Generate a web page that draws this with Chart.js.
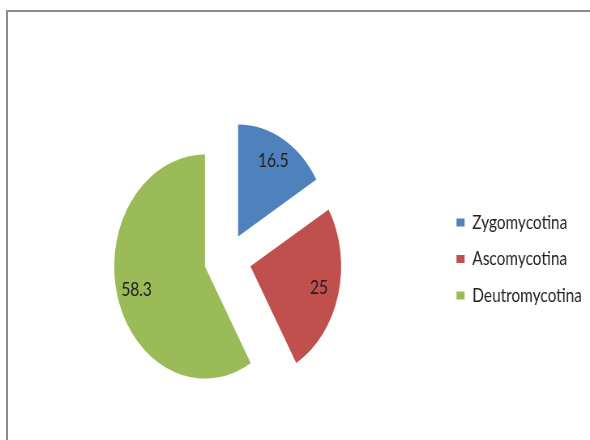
<!DOCTYPE html>
<html>
<head>
<meta charset="utf-8">
<script src="https://cdn.jsdelivr.net/npm/chart.js@4.4.1/dist/chart.umd.min.js"></script>
<style>
  html, body { margin: 0; padding: 0; background: #fff; }
  #wrap { position: relative; width: 590px; height: 440px; overflow: hidden; }
  #frame { position: absolute; left: 6px; top: 10px; width: 600px; height: 460px;
           border-left: 2px solid #8c8c8c; border-top: 2px solid #8c8c8c; }
  #chart { position: absolute; left: 0; top: 0; }
</style>
</head>
<body>
<div id="wrap">
  <div id="frame"></div>
  <!-- drawn wider than shown, the source picture is squeezed sideways -->
  <canvas id="chart" width="728" height="440" style="width:590px;height:440px"></canvas>
</div>
<script>
const categories = ["Zygomycotina", "Ascomycotina", "Deutromycotina"];
const values = [16.5, 25, 58.3];
const colors = ["#4F81BD", "#C0504D", "#9BBB59"];

const FONT = "Lato, 'Open Sans', sans-serif";
const EXPLODE = [26, 29, 29]; // px each slice is pulled out

// chart.js' own offset also grows the radius of big slices, so push them out by hand
const explode = {
  id: "explode",
  afterDatasetsUpdate(chart) {
    chart.getDatasetMeta(0).data.forEach((arc, i) => {
      const mid = (arc.startAngle + arc.endAngle) / 2;
      arc.x += Math.cos(mid) * EXPLODE[i];
      arc.y += Math.sin(mid) * EXPLODE[i];
    });
  }
};

// value labels, about 3/4 of the way out of each slice
const sliceLabels = {
  id: "sliceLabels",
  afterDatasetsDraw(chart) {
    const ctx = chart.ctx;
    ctx.save();
    ctx.font = "19px " + FONT;
    ctx.fillStyle = "#1f1f1f";
    ctx.textAlign = "center";
    ctx.textBaseline = "middle";
    chart.getDatasetMeta(0).data.forEach((arc, i) => {
      const mid = (arc.startAngle + arc.endAngle) / 2;
      const r = arc.outerRadius * 0.78;
      ctx.fillText(String(values[i]), arc.x + Math.cos(mid) * r, arc.y + Math.sin(mid) * r);
    });
    ctx.restore();
  }
};

new Chart(document.getElementById("chart"), {
  type: "pie",
  data: {
    labels: categories,
    datasets: [{
      data: values,
      backgroundColor: colors,
      borderWidth: 0,
      radius: 112,
      clip: false
    }]
  },
  options: {
    responsive: false,
    animation: false,
    layout: { padding: { left: 16, right: 0, top: 80, bottom: 2 } },
    plugins: {
      legend: {
        position: "right",
        labels: {
          boxWidth: 10,
          boxHeight: 8,
          padding: 17.5,
          color: "#222",
          font: { family: FONT, size: 19 }
        }
      },
      tooltip: { enabled: false }
    }
  },
  plugins: [explode, sliceLabels]
});
</script>
</body>
</html>
